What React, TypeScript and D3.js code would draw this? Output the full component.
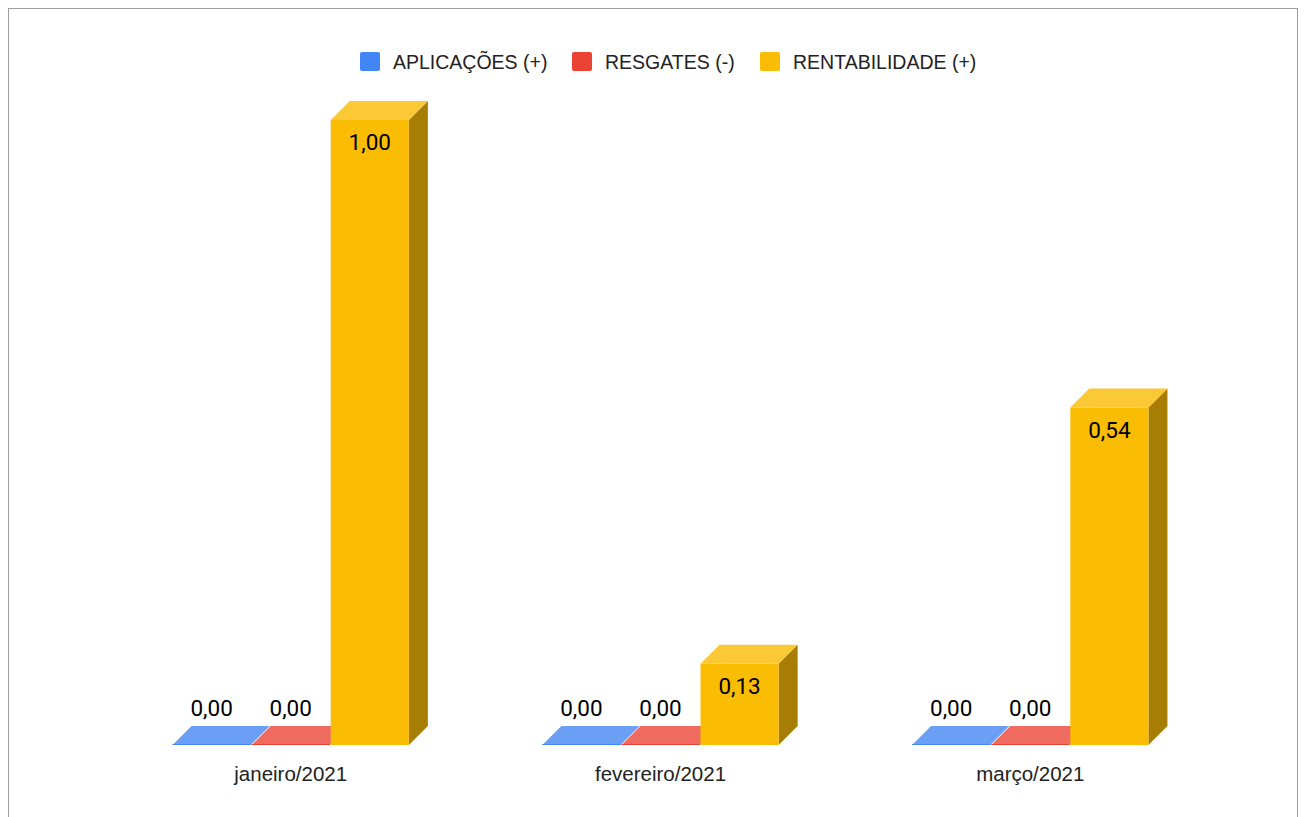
import React from 'react';
import * as d3 from 'd3';

// chart data
const months = ['janeiro/2021', 'fevereiro/2021', 'março/2021'];
const series = ['APLICAÇÕES (+)', 'RESGATES (-)', 'RENTABILIDADE (+)'];
const aplicacoes = [0, 0, 0];
const resgates = [0, 0, 0];
const rentabilidade = [1.0, 0.13, 0.54];

const front = ['#4285f4', '#ea4335', '#fbbc04'];
const topFace = ['#6a9ff5', '#ef6b60', '#fbc836'];
const sideFace = ['#3064b8', '#af3228', '#a87d03'];

const W = 1290;
const H = 830;
const depth = 19;
const roboto = 'Roboto, Arial, sans-serif';
const arial = '"Liberation Sans", Arial, sans-serif';

const fmt = (v: number) => v.toFixed(2).replace('.', ',');

export default function App() {
  // page coords minus body margin (8)
  const x0 = d3.scaleBand().domain(months).range([98, 1207]).paddingInner(0.361).paddingOuter(0.18);
  const x1 = d3.scaleBand().domain(series).range([0, x0.bandwidth()]).paddingInner(0.012);
  const y = d3.scaleLinear().domain([0, 1]).range([737, 112]);

  const values = [aplicacoes, resgates, rentabilidade];

  const bars: JSX.Element[] = [];
  const labels: JSX.Element[] = [];
  months.forEach((m, mi) => {
    series.forEach((s, si) => {
      const v = values[si][mi];
      const x = (x0(m) as number) + (x1(s) as number);
      const w = x1.bandwidth();
      const yt = y(v);
      const yb = y(0);
      const top = `${x},${yt} ${x + depth},${yt - depth} ${x + w + depth},${yt - depth} ${x + w},${yt}`;
      const side = `${x + w},${yt} ${x + w + depth},${yt - depth} ${x + w + depth},${yb - depth} ${x + w},${yb}`;
      bars.push(
        <g key={m + s}>
          {v > 0 && <polygon points={side} fill={sideFace[si]} />}
          {v > 0 && <rect x={x} y={yt} width={w} height={yb - yt} fill={front[si]} />}
          <polygon points={top} fill={topFace[si]} />
          {v === 0 && <line x1={x} x2={x + w} y1={yb - 0.5} y2={yb - 0.5} stroke={front[si]} strokeWidth={1} />}
        </g>
      );
      labels.push(
        <text key={'l' + m + s} x={x + w / 2} y={v > 0 ? yt + 30 : yb - 29}
          textAnchor="middle" fontSize={22.5} fill="#000" fontFamily={roboto}>{fmt(v)}</text>
      );
    });
  });

  // legend
  const legendX = [352, 564, 752];

  return (
    <svg width={W} height={H} style={{ display: 'block' }}>
      <rect x={0.5} y={0.5} width={W - 1} height={H + 20} fill="#fff" stroke="#9e9e9e" />
      <g>
        {series.map((s, i) => (
          <g key={s} transform={`translate(${legendX[i]},44)`}>
            <rect x={0} y={0} width={20} height={19} rx={2} fill={front[i]} />
            <text x={33} y={16.5} fontSize={19.5} fill="#222" fontFamily={arial}>{s}</text>
          </g>
        ))}
      </g>
      {bars}
      {labels}
      {months.map(m => (
        <text key={m} x={(x0(m) as number) + x0.bandwidth() / 2} y={773} textAnchor="middle"
          fontSize={20.5} fill="#222" fontFamily={arial}>{m}</text>
      ))}
    </svg>
  );
}
